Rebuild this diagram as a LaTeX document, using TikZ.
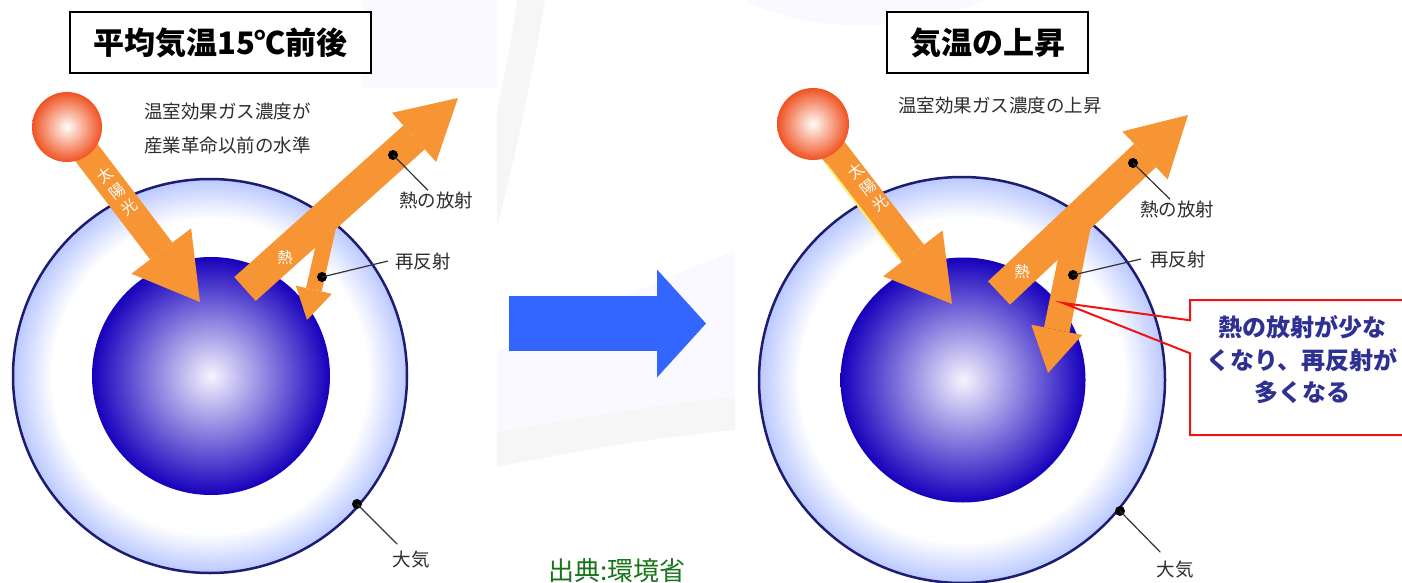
\documentclass[tikz,border=0pt]{standalone}
\usepackage{fontspec}
\newfontfamily\jpfont{Noto Sans CJK JP}
\usepackage{xcolor}
\definecolor{navy}{RGB}{ 28,  28, 112}
\definecolor{rayorange}{RGB}{247, 148,  52}
\definecolor{sunedge}{RGB}{240,  82,  34}
\definecolor{suncore}{RGB}{255, 252, 248}
\definecolor{earthedge}{RGB}{ 22,   0, 188}
\definecolor{earthcore}{RGB}{246, 244, 255}
\definecolor{airedge}{RGB}{186, 200, 255}
\definecolor{arrowblue}{RGB}{ 51, 102, 255}
\definecolor{notered}{RGB}{238,  20,  20}
\definecolor{noteblue}{RGB}{ 46,  49, 146}
\definecolor{srcgreen}{RGB}{ 24, 116,  24}
\definecolor{tagcolor}{RGB}{ 45,  45,  45}
\definecolor{bgpale}{RGB}{250, 249, 255}
\definecolor{bggray}{RGB}{246, 246, 246}
\definecolor{glow}{RGB}{250, 238, 120}
\usepackage{tikz}
\usetikzlibrary{
  arrows.meta, shapes.callouts
}
\pgfdeclareradialshading{airglow}{\pgfpoint{0bp}{0bp}}{%
  color(0bp)=(white); color(20bp)=(white);
  color(25bp)=(airedge); color(50bp)=(airedge)}
\tikzset{
  titlebox/.style={draw=black, line width=2pt, fill=white,
    minimum height=61pt, inner sep=0pt,
    font=\jpfont\bfseries\fontsize{31}{31}\selectfont},
  sunball/.style={circle, inner sep=0pt, shading=radial,
    inner color=suncore, outer color=sunedge},
  airball/.style={circle, inner sep=0pt, draw=navy, line width=2.5pt,
    shading=airglow},
  earthball/.style={circle, inner sep=0pt, shading=radial,
    inner color=earthcore, outer color=earthedge},
  sunray/.style={draw=rayorange, line width=28pt,
    -{Triangle[width=75pt, length=64pt, line width=0pt]}},
  heatray/.style={draw=rayorange, line width=32pt,
    -{Triangle[width=66pt, length=59pt, line width=0pt]}},
  backray/.style={draw=rayorange, line width=16pt,
    -{Triangle[width=37pt, length=31pt, line width=0pt]}},
  backraybig/.style={draw=rayorange, line width=26pt,
    -{Triangle[width=52pt, length=44pt, line width=0pt]}},
  rayglow/.style={draw=glow, line width=2pt},
  raytext/.style={text=white, align=center, inner sep=0pt,
    font=\jpfont\fontsize{15.5}{20}\selectfont},
  tagtext/.style={text=tagcolor, inner sep=1pt,
    font=\jpfont\fontsize{18.5}{22}\selectfont},
  markdot/.style={circle, fill=black, minimum size=10pt, inner sep=0pt},
  leadline/.style={draw=black!80, line width=1.2pt},
  bigarrow/.style={draw=arrowblue, line width=55pt,
    -{Triangle[width=108pt, length=49pt, line width=0pt]}},
  notebox/.style={rectangle callout, draw=notered, line width=2pt,
    minimum width=232pt, minimum height=135pt, inner sep=0pt,
    callout pointer width=33pt},
  notetext/.style={text=noteblue, align=center,
    font=\jpfont\bfseries\fontsize{24}{32.5}\selectfont},
  srctext/.style={text=srcgreen, font=\jpfont\fontsize{26}{26}\selectfont}
}

\begin{document}
\begin{tikzpicture}[x=1pt, y=-1pt]
  \useasboundingbox (0,0) rectangle (1402,583);

  % backdrop
  \fill[bgpale] (362,0) rectangle (497,88);
  \fill[bggray] (517,0) -- (545,0) .. controls (530,90) and (512,170) .. (497,228)
    -- (497,110) .. controls (506,70) and (513,30) .. (517,0) -- cycle;
  \fill[bgpale] (497,352) .. controls (580,315) and (660,280) .. (735,250)
    -- (735,397) .. controls (650,405) and (570,420) .. (497,432) -- cycle;
  \fill[bggray] (497,432) .. controls (570,420) and (650,405) .. (735,397)
    -- (735,430) .. controls (650,438) and (570,452) .. (497,467) -- cycle;
  \fill[bgpale] (745,0) .. controls (800,32) and (910,36) .. (985,0) -- cycle;

  % left: present level
  \node[titlebox, minimum width=301pt] (titleL) at (220.5,42.5) {平均気温15℃前後};

  \node[airball, minimum size=394pt]   (airL)   at (210,376) {};
  \node[earthball, minimum size=238pt] (earthL) at (211,376) {};

  \coordinate (sunL)     at (67,127);
  \coordinate (sunLtip)  at (200,302);
  \coordinate (heatL)    at (245,289);
  \coordinate (heatLtip) at (458,98);
  \coordinate (backL)    at (331,214);
  \coordinate (backLtip) at (307,320);

  \draw[sunray]  (sunL)  -- (sunLtip);
  \draw[heatray] (heatL) -- (heatLtip);
  \draw[backray] (backL) -- (backLtip);
  \node[sunball, minimum size=70pt] (sunballL) at (sunL) {};

  \node[raytext, rotate=37] (sunwordL) at (117,191) {太\\陽\\光};
  \node[raytext] (heatwordL) at (285,258) {熱};

  \node[tagtext, align=left, anchor=west,
    font=\jpfont\fontsize{18.5}{34}\selectfont] (ghgL) at (143,128)
    {温室効果ガス濃度が\\産業革命以前の水準};

  \node[tagtext] (tagLout)  at (436,200) {熱の放射};
  \node[tagtext] (tagLback) at (423,261) {再反射};
  \node[tagtext] (tagLair)  at (411,560) {大気};
  \node[markdot] (ptLout)  at (393,155) {};
  \node[markdot] (ptLback) at (322,277) {};
  \node[markdot] (ptLair)  at (357,504) {};
  \draw[leadline] (ptLout.center)  -- ([xshift=-8pt]tagLout.north);
  \draw[leadline] (ptLback.center) -- ([xshift=-6pt]tagLback.west);
  \draw[leadline] (ptLair.center)  -- ([xshift=6pt, yshift=6pt]tagLair.north west);

  % middle
  \coordinate (goL) at (509,323.5);
  \coordinate (goR) at (706,323.5);
  \draw[bigarrow] (goL) -- (goR);
  \node[srctext] (src) at (617,571) {出典:環境省};

  % right: rising temperature
  \node[titlebox, minimum width=201pt] (titleR) at (987.5,42.5) {気温の上昇};

  \node[airball, minimum size=406pt]   (airR)   at (962,380) {};
  \node[earthball, minimum size=245pt] (earthR) at (963,380) {};

  \coordinate (sunR)     at (813,124);
  \coordinate (sunRtip)  at (952,304);
  \coordinate (heatR)    at (999,293);
  \coordinate (heatRtip) at (1188,115);
  \coordinate (backR)    at (1079,220);
  \coordinate (backRtip) at (1048,373);

  \draw[sunray]     (sunR)  -- (sunRtip);
  \draw[rayglow]    (826,164) -- (899,259);
  \draw[heatray]    (heatR) -- (heatRtip);
  \draw[backraybig] (backR) -- (backRtip);
  \node[sunball, minimum size=72pt] (sunballR) at (sunR) {};

  \node[raytext, rotate=37.5] (sunwordR) at (868,187) {太\\陽\\光};
  \node[raytext] (heatwordR) at (1022,272) {熱};

  \node[tagtext] (ghgR) at (1000,105) {温室効果ガス濃度の上昇};

  \node[tagtext] (tagRout)  at (1177,209) {熱の放射};
  \node[tagtext] (tagRback) at (1178,259) {再反射};
  \node[tagtext] (tagRair)  at (1175,570) {大気};
  \node[markdot] (ptRout)  at (1133,163) {};
  \node[markdot] (ptRback) at (1073,275) {};
  \node[markdot] (ptRair)  at (1120,511) {};
  \draw[leadline] (ptRout.center)  -- ([xshift=-7pt]tagRout.north);
  \draw[leadline] (ptRback.center) -- ([xshift=-8pt]tagRback.west);
  \draw[leadline] (ptRair.center)  -- ([xshift=5pt, yshift=8pt]tagRair.north west);

  \coordinate (noteTip) at (1063,303);
  \node[notebox, callout absolute pointer={(noteTip)}] (note) at (1306,367.5) {};
  \node[notetext] (noteword) at (1302,360)
    {熱の放射が少な\\くなり、再反射が\\多くなる};

\end{tikzpicture}
\end{document}
